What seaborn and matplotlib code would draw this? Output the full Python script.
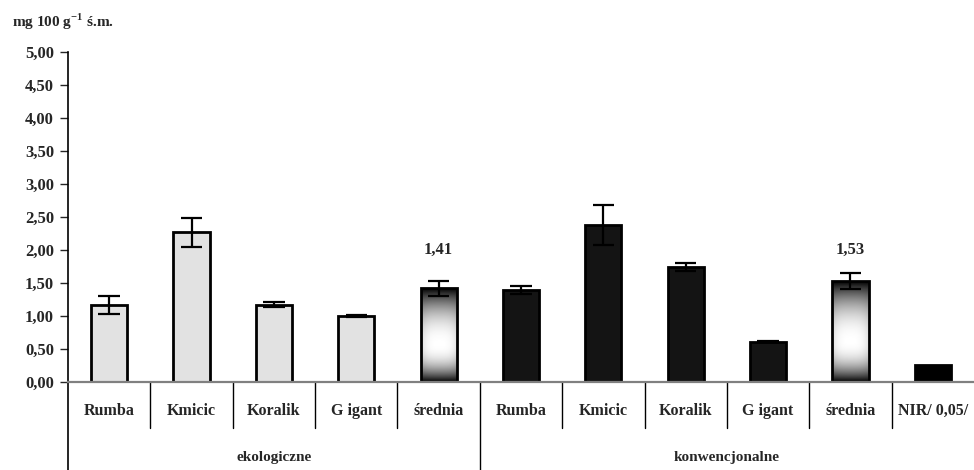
import numpy as np
import pandas as pd
import seaborn as sns
import matplotlib.pyplot as plt
import matplotlib.transforms as mtransforms

groups = ['ekologiczne'] * 5 + ['konwencjonalne'] * 6
cultivars = ['Rumba', 'Kmicic', 'Koralik', 'G igant', 'średnia',
             'Rumba', 'Kmicic', 'Koralik', 'G igant', 'średnia', 'NIR/ 0,05/']
values = [1.17, 2.27, 1.17, 1.00, 1.42, 1.39, 2.38, 1.74, 0.61, 1.53, 0.26]
errors = [0.14, 0.22, 0.04, 0.02, 0.11, 0.06, 0.30, 0.06, 0.01, 0.12, 0.0]
mean_labels = {4: '1,41', 9: '1,53'}
yticks = [0.0, 0.5, 1.0, 1.5, 2.0, 2.5, 3.0, 3.5, 4.0, 4.5, 5.0]

df = pd.DataFrame({'key': [f'{g}|{c}|{i}' for i, (g, c) in enumerate(zip(groups, cultivars))],
                   'group': groups, 'cultivar': cultivars, 'value': values})

sns.set_style('white')
plt.rcParams['font.family'] = ['Liberation Serif', 'DejaVu Serif']
plt.rcParams['font.weight'] = 'bold'
plt.rcParams['mathtext.fontset'] = 'custom'
plt.rcParams['mathtext.rm'] = 'Liberation Serif'
plt.rcParams['mathtext.bf'] = 'Liberation Serif:bold'

fig = plt.figure(figsize=(9.74, 4.70), dpi=100)
ax = fig.add_axes([68 / 974, 88 / 470, 906 / 974, 330 / 470])

sns.barplot(data=df, x='key', y='value', order=list(df['key']), width=0.44,
            color='#e2e2e2', errorbar=None, ax=ax)

# shading for the "średnia" bars: dark top and bottom, white band slightly below middle
t = np.linspace(0, 1, 200)[:, None]
u = np.linspace(0, 1, 40)[None, :]
vert = np.where(t < 0.4, np.abs(t - 0.4) / 0.4, np.abs(t - 0.4) / 0.6)
shade = (1 - vert ** 2.2) * (1 - 0.12 * (np.abs(u - 0.5) * 2) ** 3)

fills = {'ekologiczne': '#e2e2e2', 'konwencjonalne': '#141414'}
for i, patch in enumerate(ax.patches):
    patch.set_edgecolor('black')
    patch.set_linewidth(2)
    patch.set_zorder(2)
    if cultivars[i] == 'średnia':
        patch.set_facecolor('none')
        x0, w, h = patch.get_x(), patch.get_width(), patch.get_height()
        im = ax.imshow(shade, cmap='gray', vmin=0, vmax=1, aspect='auto',
                       extent=[x0, x0 + w, 0, h], origin='lower', zorder=1.9)
        im.set_clip_path(patch)
    elif cultivars[i].startswith('NIR'):
        patch.set_facecolor('black')
    else:
        patch.set_facecolor(fills[groups[i]])

pos = np.arange(len(values))
vals = np.array(values)
err = np.array(errors)
mask = err > 0
ax.vlines(pos[mask], vals[mask] - err[mask], vals[mask] + err[mask],
          color='black', lw=1.6, zorder=10)
for sign in (-1, 1):
    ax.hlines(vals[mask] + sign * err[mask], pos[mask] - 0.13, pos[mask] + 0.13,
              color='black', lw=1.6, zorder=10)

for i, lab in mean_labels.items():
    ax.text(i, 2.0, lab, ha='center', va='center', fontsize=12, fontweight='bold')

ax.set_xlim(-0.5, len(values) - 0.5)
ax.set_ylim(0, 5)
ax.set_yticks(yticks)
ax.set_yticklabels([f'{v:.2f}'.replace('.', ',') for v in yticks])
ax.set_xticks(pos)
ax.set_xticklabels(cultivars)
ax.tick_params(axis='y', direction='out', length=6, width=1, labelsize=12, pad=4, left=True)
ax.tick_params(axis='x', length=0, labelsize=11.5, pad=15)
ax.set_xlabel('')
ax.set_ylabel('')

for s in ['top', 'right']:
    ax.spines[s].set_visible(False)
ax.spines['left'].set_color('black')
ax.spines['left'].set_linewidth(1.2)
ax.spines['bottom'].set_color('#808080')
ax.spines['bottom'].set_linewidth(1.6)

trans = mtransforms.blended_transform_factory(ax.transData, ax.transAxes)
for b in np.arange(len(values)) - 0.5:
    if b < 0:
        continue
    is_group = groups[int(b + 0.5)] != groups[int(b - 0.5)]
    ax.plot([b, b], [0, -0.27 if is_group else -0.139], color='black', lw=1,
            transform=trans, clip_on=False)
ax.plot([-0.5, -0.5], [0, -0.27], color='black', lw=1.2, transform=trans, clip_on=False)

for g in ['ekologiczne', 'konwencjonalne']:
    idx = [i for i, gg in enumerate(groups) if gg == g]
    centre = (idx[0] + idx[-1]) / 2
    ax.text(centre, -0.23, g, transform=trans, ha='center', va='center',
            fontsize=11, fontweight='bold')

fig.text(12 / 974, 1 - 22 / 470, r'mg 100 g$^{\mathbf{-1}}$ ś.m.', ha='left', va='center',
         fontsize=11, fontweight='bold')

fig.savefig('out.png', dpi=100)
